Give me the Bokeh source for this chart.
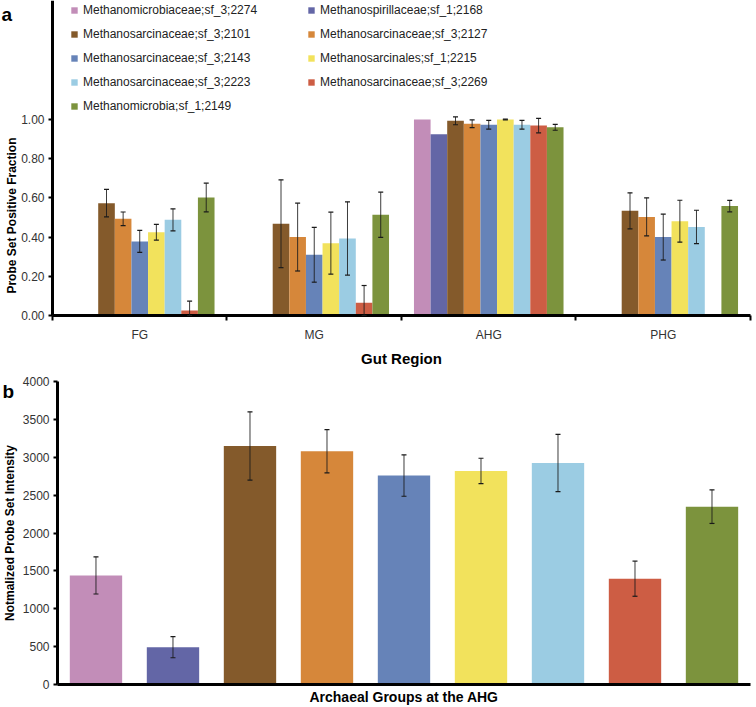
import math
from bokeh.plotting import figure
from bokeh.models import (ColumnDataSource, Range1d, FixedTicker, NumeralTickFormatter,
                          Whisker, TeeHead, Legend, LegendItem, Label)
from bokeh.layouts import column
from bokeh.embed import file_html
from bokeh.resources import INLINE

FONT = "Liberation Sans"
nan = float("nan")

regions = ["FG", "MG", "AHG", "PHG"]
groups = [
    "Methanomicrobiaceae;sf_3;2274",
    "Methanospirillaceae;sf_1;2168",
    "Methanosarcinaceae;sf_3;2101",
    "Methanosarcinaceae;sf_3;2127",
    "Methanosarcinaceae;sf_3;2143",
    "Methanosarcinales;sf_1;2215",
    "Methanosarcinaceae;sf_3;2223",
    "Methanosarcinaceae;sf_3;2269",
    "Methanomicrobia;sf_1;2149",
]
colors = ["#C28DB8", "#6366A6", "#845A2B", "#D6873A", "#6683B8",
          "#F2E25C", "#9BCCE3", "#CD5D44", "#7C933D"]

# Panel a: probe set positive fraction per gut region (one value per group)
frac_fg = [nan, nan, 0.573, 0.493, 0.378, 0.425, 0.488, 0.025, 0.602]
err_fg = [nan, nan, 0.070, 0.035, 0.056, 0.040, 0.056, 0.048, 0.073]
frac_mg = [nan, nan, 0.468, 0.400, 0.310, 0.369, 0.393, 0.065, 0.514]
err_mg = [nan, nan, 0.224, 0.173, 0.140, 0.158, 0.187, 0.088, 0.115]
frac_ahg = [1.000, 0.925, 0.993, 0.978, 0.973, 1.000, 0.973, 0.969, 0.960]
err_ahg = [nan, nan, 0.020, 0.020, 0.022, 0.002, 0.022, 0.037, 0.015]
frac_phg = [nan, nan, 0.534, 0.503, 0.400, 0.481, 0.452, nan, 0.558]
err_phg = [nan, nan, 0.092, 0.097, 0.117, 0.107, 0.085, nan, 0.029]

# Panel b: normalized probe set intensity at the AHG
intensity = [1440, 493, 3149, 3079, 2758, 2819, 2925, 1397, 2348]
intensity_err = [245, 140, 450, 285, 273, 168, 378, 232, 222]

y_ticks_a = [0.0, 0.2, 0.4, 0.6, 0.8, 1.0]
y_ticks_b = [0, 500, 1000, 1500, 2000, 2500, 3000, 3500, 4000]

frac_by_region = [frac_fg, frac_mg, frac_ahg, frac_phg]
err_by_region = [err_fg, err_mg, err_ahg, err_phg]

ERR_COLOR = "#1a1a1a"


def style_axis(ax):
    ax.axis_line_width = 3
    ax.axis_line_color = "black"
    ax.major_tick_line_width = 2
    ax.major_tick_line_color = "black"
    ax.major_tick_in = 0
    ax.major_tick_out = 4
    ax.minor_tick_line_color = None
    ax.major_label_text_font = FONT
    ax.major_label_text_font_size = "12px"
    ax.major_label_text_color = "#333333"
    ax.axis_label_text_font = FONT
    ax.axis_label_text_font_style = "bold"
    ax.axis_label_text_color = "black"


def whisker(src):
    return Whisker(base="x", upper="upper", lower="lower", source=src, level="annotation",
                   line_color=ERR_COLOR, line_width=1, line_alpha=0.85,
                   upper_head=TeeHead(size=5, line_color=ERR_COLOR, line_width=1.2),
                   lower_head=TeeHead(size=5, line_color=ERR_COLOR, line_width=1.2))


def bold_label(x, y, text, size, **kw):
    return Label(x=x, y=y, text=text, text_font=FONT, text_font_size=size,
                 text_font_style="bold", text_color="black", **kw)


def bare_figure(w, h, xr, yr):
    f = figure(width=w, height=h, output_backend="svg", toolbar_location=None,
               x_range=xr, y_range=yr,
               min_border_left=0, min_border_right=0, min_border_top=0, min_border_bottom=0)
    f.grid.visible = False
    f.outline_line_color = None
    return f


# ---------------- Panel a ----------------
n_reg = len(regions)
n_grp = len(groups)
bw = 1.0 / (n_grp + 1.5)
xl_a, xr_a = 0.298, 0.0115
yt_a, yb_a = 1.607, -0.2806

p1 = bare_figure(752, 370, Range1d(-xl_a, n_reg + xr_a), Range1d(yb_a, yt_a))

legend_items = []
ex, eu, el = [], [], []
for gi, name in enumerate(groups):
    xs, tops = [], []
    for ri in range(n_reg):
        v = frac_by_region[ri][gi]
        if math.isnan(v):
            continue
        xc = ri + 0.5 + (gi - (n_grp - 1) / 2) * bw
        xs.append(xc)
        tops.append(v)
        e = err_by_region[ri][gi]
        if not math.isnan(e):
            ex.append(xc)
            eu.append(v + e)
            el.append(max(0.0, v - e))
    r = p1.vbar(x=xs, top=tops, width=bw, bottom=0, fill_color=colors[gi], line_color=None)
    legend_items.append(LegendItem(label=name, renderers=[r]))

p1.add_layout(whisker(ColumnDataSource(dict(x=ex, upper=eu, lower=el))))

for ax in (p1.xaxis[0], p1.yaxis[0]):
    style_axis(ax)

p1.yaxis.fixed_location = 0
p1.yaxis.bounds = (0, yt_a)
p1.yaxis.ticker = FixedTicker(ticks=y_ticks_a)
p1.yaxis.formatter = NumeralTickFormatter(format="0.00")
p1.yaxis.major_label_standoff = 4

p1.xaxis.fixed_location = 0
p1.xaxis.bounds = (0, n_reg)
p1.xaxis.ticker = FixedTicker(ticks=[i + 0.5 for i in range(n_reg)],
                              minor_ticks=list(range(n_reg + 1)))
p1.xaxis.major_label_overrides = {i + 0.5: regions[i] for i in range(n_reg)}
p1.xaxis.major_tick_out = 0
p1.xaxis.minor_tick_line_color = "black"
p1.xaxis.minor_tick_line_width = 2
p1.xaxis.minor_tick_out = 5
p1.xaxis.minor_tick_in = 0
p1.xaxis.major_label_standoff = 8
p1.xaxis.axis_label = "Gut Region"
p1.xaxis.axis_label_text_font_size = "15px"
p1.xaxis.axis_label_standoff = 4

p1.add_layout(bold_label(-xl_a, 0.51, "Probe Set Positive Fraction", "12px",
                         x_offset=11, angle=math.pi / 2,
                         text_align="center", text_baseline="middle"))
p1.add_layout(bold_label(-xl_a, yt_a, "a", "19px", x_offset=1, y_offset=-14,
                         text_align="left", text_baseline="alphabetic"))


def make_legend(items, loc):
    return Legend(items=items, location=loc, orientation="vertical",
                  glyph_width=8, glyph_height=8, label_height=20, spacing=4,
                  padding=0, margin=0, label_standoff=5,
                  label_text_font=FONT, label_text_font_size="12px",
                  label_text_color="#222222",
                  border_line_color=None, background_fill_alpha=0)


p1.add_layout(make_legend(legend_items[0::2], (70, 254)))
p1.add_layout(make_legend(legend_items[1::2], (307, 278)))

# ---------------- Panel b ----------------
xl_b, xr_b = 0.740, 0.026
yt_b, yb_b = 4145, -277
group_pos = [i + 0.5 for i in range(n_grp)]

p2 = bare_figure(752, 335, Range1d(-xl_b, n_grp + xr_b), Range1d(yb_b, yt_b))

src_b = ColumnDataSource(dict(
    x=group_pos, top=intensity, color=colors,
    upper=[v + e for v, e in zip(intensity, intensity_err)],
    lower=[v - e for v, e in zip(intensity, intensity_err)],
))
p2.vbar(x="x", top="top", width=0.68, bottom=0, fill_color="color", line_color=None, source=src_b)
p2.add_layout(whisker(src_b))

for ax in (p2.xaxis[0], p2.yaxis[0]):
    style_axis(ax)
p2.yaxis.fixed_location = 0
p2.yaxis.bounds = (0, 4000)
p2.yaxis.ticker = FixedTicker(ticks=y_ticks_b)
p2.yaxis.major_label_standoff = 4
p2.xaxis.fixed_location = 0
p2.xaxis.bounds = (0, n_grp)
p2.xaxis.ticker = FixedTicker(ticks=[])
p2.xaxis.major_label_standoff = 0
p2.xaxis.axis_label = "Archaeal Groups at the AHG"
p2.xaxis.axis_label_text_font_size = "14px"
p2.xaxis.axis_label_standoff = 4

p2.add_layout(bold_label(-xl_b, 2000, "Notmalized Probe Set Intensity", "12px",
                         x_offset=9, angle=math.pi / 2,
                         text_align="center", text_baseline="middle"))
p2.add_layout(bold_label(-xl_b, yt_b, "b", "19px", x_offset=2, y_offset=-21,
                         text_align="left", text_baseline="alphabetic"))

layout = column(p1, p2)
open("out.html", "w").write(file_html(layout, INLINE))
